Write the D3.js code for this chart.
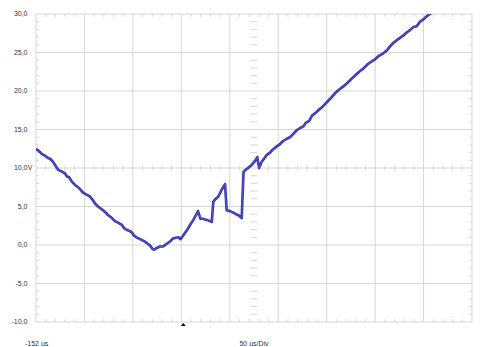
<!DOCTYPE html>
<html>
<head>
<meta charset="utf-8">
<script src="https://cdn.jsdelivr.net/npm/d3@7"></script>
<style>
html,body{margin:0;padding:0;background:#fff;}
svg{display:block;}
text{font-family:"Liberation Sans",Arial,sans-serif;}
</style>
</head>
<body>
<svg id="chart" width="483" height="347"></svg>
<script>
// ---- data ----
const timeUs = [-152,-148.9,-145.8,-142.7,-139.6,-137.5,-134.4,-132.4,-129.3,-126.2,-122.1,-120.0,-117.9,-114.8,-111.7,-107.6,-103.5,-99.4,-96.3,-93.2,-91.1,-88.0,-83.9,-80.8,-77.7,-73.6,-70.5,-67.4,-63.3,-61.2,-58.1,-55.0,-52.9,-50.8,-47.7,-43.6,-39.5,-36.4,-34.3,-31.5,-30.2,-27.6,-24.0,-20.9,-17.8,-13.7,-10.6,-7.5,-4.9,-2.8,0.8,3.9,7.0,10.1,13.2,15.2,17.8,20.4,22.4,25.5,29.4,31.0,32.8,36.2,39.7,43.1,44.8,48.2,51.7,54.4,56.8,60.3,62.2,63.7,66.8,70.6,74.0,76.4,78.2,81.0,83.3,86.1,89.5,91.6,96.4,99.9,101.9,106.8,110.2,113.3,117.1,120.5,123.9,126.7,129.8,132.9,136.0,139.4,143.2,146.3,149.4,153.2,156.6,160.0,165.2,169.0,173.9,179.0,182.4,185.8,189.7,192.8,197.9,201.0,206.5,210.3,213.4,216.5,220.3,223.7,227.1,230.6,234.0,237.4,240.9,244.4,247.8,251.3,254.7,257.8];
const voltage = [12.5,12.2,11.8,11.6,11.3,11.2,10.8,10.4,9.8,9.6,9.3,8.9,8.8,8.2,7.8,7.4,6.8,6.5,6.3,5.8,5.4,5.0,4.6,4.3,3.9,3.5,3.1,2.9,2.6,2.2,1.95,1.8,1.6,1.2,0.95,0.7,0.43,0.13,-0.05,-0.55,-0.6,-0.4,-0.2,-0.2,0.1,0.45,0.85,0.95,1.0,0.75,1.4,1.95,2.6,3.2,3.9,4.4,3.4,3.4,3.3,3.2,3.0,5.6,5.9,6.3,7.2,7.9,4.5,4.4,4.2,4.0,3.9,3.5,9.5,9.7,10.0,10.4,10.9,11.4,10.0,10.8,11.2,11.7,12.0,12.3,12.8,13.1,13.4,13.8,14.0,14.4,14.9,15.2,15.4,15.9,16.1,16.8,17.1,17.5,17.9,18.3,18.7,19.2,19.7,20.1,20.6,21.0,21.6,22.2,22.6,22.9,23.4,23.7,24.1,24.5,24.9,25.3,25.8,26.2,26.6,26.9,27.2,27.6,27.9,28.3,28.4,29.0,29.3,29.7,30.0,30.3];
const yTickValues = [30,25,20,15,10,5,0,-5,-10];
const yTickLabels = ["30,0","25,0","20,0","15,0","10,0","5,0","0,0","-5,0","-10,0"];
const xStartLabel = "-152 us";
const xScaleLabel = "50 us/Div";
const timeStart = -152, usPerDiv = 50, xDivs = 9;
const triggerTime = 0;

// ---- layout ----
const svg = d3.select("#chart");
const L = 36, R = 472, T = 14, B = 322;
const x = d3.scaleLinear().domain([timeStart, timeStart + usPerDiv * xDivs]).range([L, R]);
const y = d3.scaleLinear().domain([-10, 30]).range([B, T]);
const gridC = "#d6d6d6";

const g = svg.append("g");
// vertical grid lines
const xGrid = d3.range(0, xDivs + 1).map(i => timeStart + i * usPerDiv);
g.selectAll("line.vg").data(xGrid).join("line")
  .attr("x1", d => x(d)).attr("x2", d => x(d)).attr("y1", T).attr("y2", B)
  .attr("stroke", gridC).attr("stroke-width", 1);
// horizontal grid lines
g.selectAll("line.hg").data(yTickValues).join("line")
  .attr("x1", L).attr("x2", R).attr("y1", d => y(d)).attr("y2", d => y(d))
  .attr("stroke", gridC).attr("stroke-width", 1);

// minor ticks along x (top, bottom, center horizontal line)
const xMinor = [];
for (let i = 0; i < xDivs; i++) for (let k = 1; k < 5; k++) xMinor.push(timeStart + (i + k / 5) * usPerDiv);
const yMinor = [];
for (let i = 0; i < 8; i++) for (let k = 1; k < 5; k++) yMinor.push(-10 + (i + k / 5) * 5);
const yc = y(10), xc = (L + R) / 2;
xMinor.forEach(t => {
  const px = x(t);
  g.append("line").attr("x1", px).attr("x2", px).attr("y1", T).attr("y2", T + 3).attr("stroke", gridC);
  g.append("line").attr("x1", px).attr("x2", px).attr("y1", B - 3).attr("y2", B).attr("stroke", gridC);
  g.append("line").attr("x1", px).attr("x2", px).attr("y1", yc - 2.5).attr("y2", yc + 2.5).attr("stroke", gridC);
});
yMinor.forEach(v => {
  const py = y(v);
  g.append("line").attr("x1", L).attr("x2", L + 3).attr("y1", py).attr("y2", py).attr("stroke", gridC);
  g.append("line").attr("x1", R - 3).attr("x2", R).attr("y1", py).attr("y2", py).attr("stroke", gridC);
  g.append("line").attr("x1", xc - 3.5).attr("x2", xc + 3.5).attr("y1", py).attr("y2", py).attr("stroke", gridC);
});

// trace
svg.append("clipPath").attr("id", "clip").append("rect")
  .attr("x", L).attr("y", T).attr("width", R - L).attr("height", B - T);
const pts = timeUs.map((t, i) => [t, voltage[i]]);
const line = d3.line().x(d => x(d[0])).y(d => y(d[1]));
const tg = svg.append("g").attr("clip-path", "url(#clip)");
tg.append("path").attr("d", line(pts)).attr("fill", "none")
  .attr("stroke", "#2c2ca6").attr("stroke-width", 2.6).attr("stroke-linejoin", "round");
tg.append("path").attr("d", line(pts)).attr("fill", "none")
  .attr("stroke", "#5e5ed2").attr("stroke-width", 0.9).attr("stroke-linejoin", "round");

// y labels
const lab = svg.append("g").attr("font-size", 7).attr("fill", "#333");
yTickValues.forEach((v, i) => {
  lab.append("text").attr("x", 27.5).attr("y", y(v)).attr("dy", "0.35em")
    .attr("text-anchor", "end").text(yTickLabels[i]);
});
lab.append("text").attr("x", 27.8).attr("y", y(10)).attr("dy", "0.35em")
  .attr("text-anchor", "start").text("V");
// x labels
lab.append("text").attr("x", 25).attr("y", 346).attr("text-anchor", "start").text(xStartLabel);
lab.append("text").attr("x", xc).attr("y", 346).attr("text-anchor", "middle").text(xScaleLabel);

// trigger marker
const tx = x(triggerTime);
svg.append("path").attr("d", `M${tx},${B + 1}L${tx - 2.5},${B + 4}L${tx + 2.5},${B + 4}Z`).attr("fill", "#000");
</script>
</body>
</html>
